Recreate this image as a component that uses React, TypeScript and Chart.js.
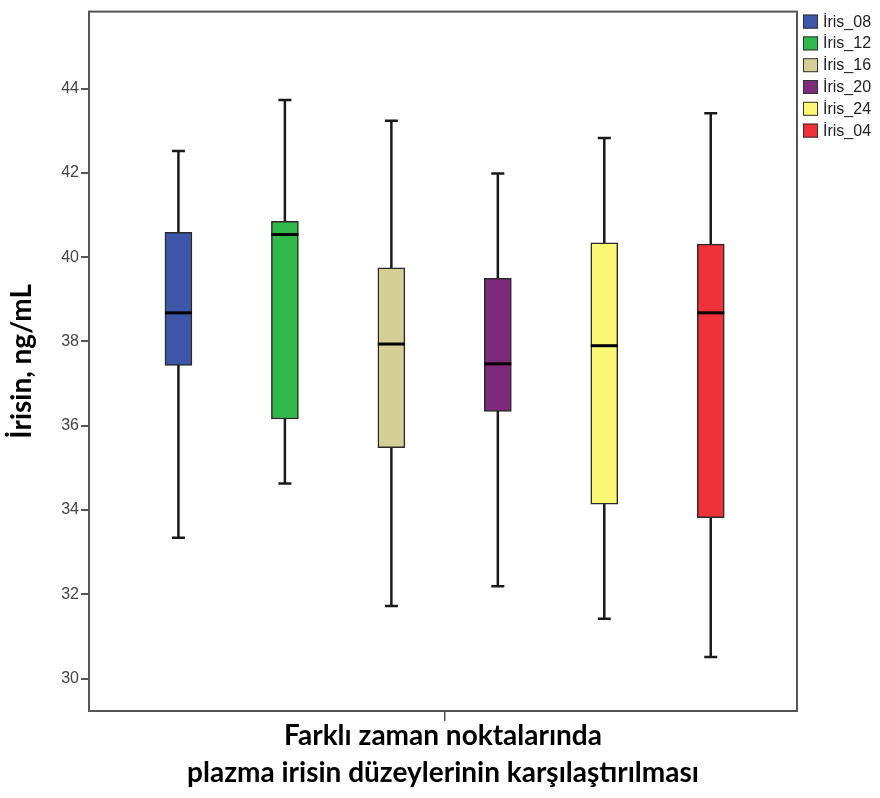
import React, { useEffect, useRef } from "react";
import { Chart, registerables } from "chart.js";

Chart.register(...registerables);

const categories = ["İris_08", "İris_12", "İris_16", "İris_20", "İris_24", "İris_04"];
const whiskerLow = [33.34, 34.63, 31.72, 32.19, 31.42, 30.51];
const q1 = [37.43, 36.16, 35.48, 36.34, 34.14, 33.82];
const median = [38.68, 40.54, 37.94, 37.47, 37.9, 38.68];
const q3 = [40.59, 40.85, 39.75, 39.5, 40.34, 40.31];
const whiskerHigh = [42.52, 43.73, 43.24, 41.99, 42.83, 43.42];
const colors = ["#3d56a8", "#30b94a", "#d3cf97", "#7d2a7b", "#fbf674", "#ef3239"];
const yTicks = [30, 32, 34, 36, 38, 40, 42, 44];
const yTitle = "İrisin, ng/mL";
const xTitle = ["Farklı zaman noktalarında", "plazma irisin düzeylerinin karşılaştırılması"];

const boxPlugin = {
  id: "boxparts",
  beforeDatasetsDraw(chart: any) {
    const { ctx } = chart;
    const y = chart.scales.y;
    const meta = chart.getDatasetMeta(0);
    ctx.save();
    ctx.strokeStyle = "#1a1a1a";
    ctx.lineWidth = 2.5;
    meta.data.forEach((bar: any, i: number) => {
      const x = bar.x;
      const lo = y.getPixelForValue(whiskerLow[i]);
      const hi = y.getPixelForValue(whiskerHigh[i]);
      ctx.beginPath();
      ctx.moveTo(x, lo);
      ctx.lineTo(x, hi);
      ctx.moveTo(x - 6.5, lo);
      ctx.lineTo(x + 6.5, lo);
      ctx.moveTo(x - 6.5, hi);
      ctx.lineTo(x + 6.5, hi);
      ctx.stroke();
    });
    ctx.restore();
  },
  afterDatasetsDraw(chart: any) {
    const { ctx } = chart;
    const y = chart.scales.y;
    const meta = chart.getDatasetMeta(0);
    ctx.save();
    ctx.strokeStyle = "#000";
    ctx.lineWidth = 3;
    meta.data.forEach((bar: any, i: number) => {
      const x = bar.x;
      const w = bar.width / 2;
      const m = y.getPixelForValue(median[i]);
      ctx.beginPath();
      ctx.moveTo(x - w, m);
      ctx.lineTo(x + w, m);
      ctx.stroke();
    });
    ctx.restore();
  },
  afterDraw(chart: any) {
    const { ctx, chartArea: a } = chart;
    ctx.save();
    ctx.strokeStyle = "#555";
    ctx.lineWidth = 2;
    ctx.strokeRect(a.left, a.top, a.right - a.left, a.bottom - a.top);
    // legend
    const lx = a.right + 6;
    ctx.font = "16px 'Liberation Sans', Arial, sans-serif";
    ctx.textBaseline = "middle";
    ctx.textAlign = "left";
    categories.forEach((c, i) => {
      const top = a.top + 3 + i * 21.8;
      ctx.fillStyle = colors[i];
      ctx.fillRect(lx, top, 15, 14);
      ctx.strokeStyle = "#333";
      ctx.lineWidth = 1;
      ctx.strokeRect(lx + 0.5, top + 0.5, 14, 13);
      ctx.fillStyle = "#222";
      ctx.fillText(c, lx + 20, top + 7.5);
    });
    ctx.restore();
  },
};

export default function App() {
  const ref = useRef<HTMLCanvasElement>(null);
  useEffect(() => {
    const chart = new Chart(ref.current as HTMLCanvasElement, {
      type: "bar",
      data: {
        datasets: [
          {
            label: "box",
            data: categories.map((c, i) => ({ x: i + 1, y: [q1[i], q3[i]] })) as any,
            backgroundColor: colors,
            borderColor: "#2a2a2a",
            borderWidth: 1.5,
            borderSkipped: false,
            barThickness: 27,
          },
        ],
      },
      options: {
        animation: false,
        responsive: false,
        layout: { padding: { top: 5, right: 83, left: 0, bottom: 0 } },
        plugins: { legend: { display: false }, tooltip: { enabled: false } },
        scales: {
          x: {
            type: "linear",
            min: 0.16,
            max: 6.81,
            offset: false,
            afterBuildTicks: (s: any) => {
              s.ticks = [{ value: 3.5 }];
            },
            afterFit: (s: any) => {
              s.height = 87;
            },
            border: { display: false },
            grid: { offset: false, drawOnChartArea: false, drawTicks: true, tickLength: 10, color: "#555", lineWidth: 1.5 },
            ticks: { callback: () => "" },
            title: {
              display: true,
              text: xTitle,
              color: "#000",
              font: { family: "Lato, sans-serif", size: 28, weight: "bold", lineHeight: 1.3 },
              padding: { top: 0, bottom: 7 },
            },
          },
          y: {
            min: 29.23,
            max: 45.83,
            afterBuildTicks: (s: any) => {
              s.ticks = yTicks.map((v) => ({ value: v }));
            },
            afterFit: (s: any) => {
              s.width = 89;
            },
            border: { display: false },
            grid: { drawOnChartArea: false, drawTicks: true, tickLength: 8, color: "#555", lineWidth: 2 },
            ticks: {
              color: "#444",
              padding: 2,
              font: { family: "'Liberation Sans', Arial, sans-serif", size: 16 },
            },
            title: {
              display: true,
              text: yTitle,
              color: "#000",
              font: { family: "Lato, sans-serif", size: 28, weight: "bold", lineHeight: 1.2 },
              padding: { top: 5, bottom: 0 },
            },
          },
        },
      },
      plugins: [boxPlugin],
    });
    return () => chart.destroy();
  }, []);
  return (
    <div style={{ position: "absolute", left: 0, top: 0, width: 880, height: 798 }}>
      <canvas ref={ref} width={880} height={798} style={{ display: "block" }} />
    </div>
  );
}
